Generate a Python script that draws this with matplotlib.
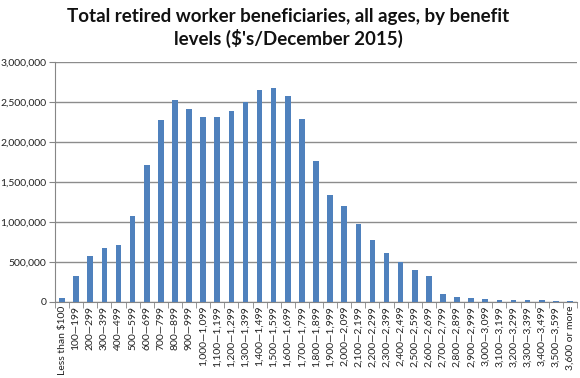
import matplotlib
matplotlib.use("Agg")
import matplotlib.pyplot as plt
from matplotlib.ticker import FuncFormatter, FixedLocator
import numpy as np

categories = ["Less than $100", "100\u2014199", "200\u2014299", "300\u2014399", "400\u2014499",
              "500\u2014599", "600\u2014699", "700\u2014799", "800\u2014899", "900\u2014999",
              "1,000\u20141,099", "1,100\u20141,199", "1,200\u20141,299", "1,300\u20141,399",
              "1,400\u20141,499", "1,500\u20141,599", "1,600\u20141,699", "1,700\u20141,799",
              "1,800\u20141,899", "1,900\u20141,999", "2,000\u20142,099", "2,100\u20142,199",
              "2,200\u20142,299", "2,300\u20142,399", "2,400\u20142,499", "2,500\u20142,599",
              "2,600\u20142,699", "2,700\u20142,799", "2,800\u20142,899", "2,900\u20142,999",
              "3,000\u20143,099", "3,100\u20143,199", "3,200\u20143,299", "3,300\u20143,399",
              "3,400\u20143,499", "3,500\u20143,599", "3,600 or more"]
values = [42000, 321000, 575000, 667000, 708000, 1067000, 1705000, 2275000, 2521000, 2405000,
          2312000, 2312000, 2380000, 2496000, 2642000, 2667000, 2571000, 2287000, 1759000,
          1337000, 1192000, 975000, 767000, 612000, 492000, 396000, 321000, 92000, 55000,
          42000, 33000, 21000, 20000, 18000, 17000, 10000, 3000]
yticks = [0, 500000, 1000000, 1500000, 2000000, 2500000, 3000000]
title = "Total retired worker beneficiaries, all ages, by benefit\nlevels ($'s/December 2015)"

plt.rcParams['font.family'] = ['Lato', 'DejaVu Sans']

fig = plt.figure(figsize=(5.8, 3.78), dpi=100)
ax = fig.add_axes([55/580, 1 - 301.7/378, 522/580, 240/378])

x = np.arange(len(categories))
ax.bar(x, values, width=0.4, color="#4F81BD", zorder=3)

ax.set_xlim(-0.5, len(categories) - 0.5)
ax.set_ylim(0, 3000000)
ax.set_yticks(yticks)
ax.yaxis.set_major_formatter(FuncFormatter(lambda v, p: f"{int(v):,}"))
ax.tick_params(axis='y', labelsize=7.5, length=4, color="#868686", pad=2, labelcolor="#222222")
ax.grid(axis='y', color="#8c8c8c", linewidth=1.0, zorder=0)

ax.set_xticks(x)
ax.set_xticklabels(categories, rotation=90, fontsize=7.5, color="#222222")
ax.tick_params(axis='x', length=0, pad=3)
ax.xaxis.set_minor_locator(FixedLocator(np.arange(-0.5, len(categories), 1)))
ax.tick_params(axis='x', which='minor', length=4, color="#868686")

for s in ["top", "right"]:
    ax.spines[s].set_visible(False)
ax.spines["left"].set_color("#868686")
ax.spines["bottom"].set_color("#868686")

fig.text(288/580, 1 - 28/378, title, ha="center", va="center", fontsize=13.5,
         fontweight="bold", linespacing=1.3, color="#111111", multialignment="center")

fig.savefig("out.png", dpi=100)
